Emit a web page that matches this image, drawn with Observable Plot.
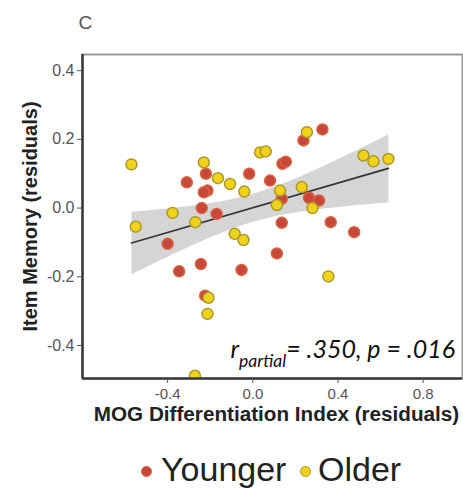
<!DOCTYPE html>
<html>
<head>
<meta charset="utf-8">
<script src="https://cdn.jsdelivr.net/npm/d3@7"></script>
<script src="https://cdn.jsdelivr.net/npm/@observablehq/plot@0.6"></script>
<style>
  html, body { margin: 0; padding: 0; background: #fff; }
  body { width: 463px; font-family: "Liberation Sans", Arial, sans-serif; }
  #chart svg { display: block; }
  #legend { position: relative; width: 463px; height: 58px; color: #222; font-size: 34px; }
  #legend .dot { position: absolute; width: 11px; height: 11px; border-radius: 50%; box-sizing: border-box; }
  #legend .lab { position: absolute; line-height: 1; white-space: nowrap; }
</style>
</head>
<body>
<div id="chart"></div>
<div id="legend"></div>
<script>
// ---- data ----
const groups = ["Younger", "Older"];
const groupFill = ["#c7473b", "#f1d11a"];
const groupStroke = ["#d8653f", "#a99a2c"];

const youngerX = [-0.31, -0.22, -0.213, -0.23, -0.24, -0.17, -0.40, -0.017, 0.081, 0.139, 0.155, 0.136,
                  0.136, 0.264, 0.311, 0.366, 0.238, 0.327, 0.113, 0.476, -0.346, -0.244, -0.224, -0.053];
const youngerY = [0.075, 0.10, 0.051, 0.046, 0.0, -0.017, -0.104, 0.10, 0.080, 0.129, 0.135, 0.027,
                  -0.043, 0.030, 0.022, -0.041, 0.197, 0.229, -0.132, -0.070, -0.184, -0.163, -0.255, -0.180];

const olderX = [-0.57, -0.23, -0.164, -0.107, -0.04, 0.034, 0.061, 0.128, 0.113, 0.23, 0.28, 0.254,
                -0.085, -0.044, 0.52, 0.567, 0.637, -0.377, -0.27, -0.55, -0.208, -0.213, -0.272, 0.355];
const olderY = [0.127, 0.133, 0.087, 0.070, 0.048, 0.162, 0.165, 0.051, 0.009, 0.061, 0.0, 0.221,
                -0.075, -0.093, 0.153, 0.136, 0.143, -0.014, -0.041, -0.054, -0.261, -0.308, -0.488, -0.199];

const xTicks = [-0.4, 0.0, 0.4, 0.8];
const yTicks = [-0.4, -0.2, 0.0, 0.2, 0.4];
const xDomain = [-0.8, 0.985];
const yDomain = [-0.496, 0.447];

const panelLabel = "C";
const xLabel = "MOG Differentiation Index (residuals)";
const yLabel = "Item Memory (residuals)";
const statR = "r";
const statSub = "partial";
const statRest = "= .350, p = .016";
const statPos = {x: 0.952, y: -0.438};

// ---- build table ----
const younger = youngerX.map((x, i) => ({x, y: youngerY[i], group: groups[0]}));
const older = olderX.map((x, i) => ({x, y: olderY[i], group: groups[1]}));
const all = younger.concat(older);
const fmt = d => d.toFixed(1);

const plot = Plot.plot({
  width: 463,
  height: 430,
  marginLeft: 82,
  marginRight: 1,
  marginTop: 54,
  marginBottom: 52,
  style: {background: "#fff", fontFamily: "'Liberation Sans', Arial, sans-serif", color: "#222"},
  x: {domain: xDomain},
  y: {domain: yDomain},
  marks: [
    Plot.frame({stroke: "#9a9a9a", strokeWidth: 2}),
    Plot.linearRegressionY(all, {x: "x", y: "y", stroke: "#333", strokeWidth: 1.6, fill: "#b9b9b9", fillOpacity: 0.6, ci: 0.95}),
    Plot.dot(younger, {x: "x", y: "y", r: 5.5, fill: groupFill[0], stroke: groupStroke[0], strokeWidth: 1.5, clip: true}),
    Plot.dot(older, {x: "x", y: "y", r: 5.5, fill: groupFill[1], stroke: groupStroke[1], strokeWidth: 1.5, clip: true}),
    Plot.ruleX([xDomain[0]], {stroke: "#3a3a3a", strokeWidth: 2.5}),
    Plot.ruleY([yDomain[0]], {stroke: "#3a3a3a", strokeWidth: 2.5}),
    Plot.axisY({ticks: yTicks, tickFormat: fmt, tickSize: 5, tickPadding: 3, fontSize: 16, color: "#555", label: null}),
    Plot.axisX({ticks: xTicks, tickFormat: fmt, tickSize: 5, tickPadding: 5, fontSize: 15, color: "#555", label: null}),
    Plot.text([yLabel], {frameAnchor: "left", textAnchor: "middle", lineAnchor: "middle", rotate: -90, dx: -52, fontSize: 20, fontWeight: "bold", fill: "#222"}),
    Plot.text([xLabel], {frameAnchor: "bottom", textAnchor: "middle", lineAnchor: "middle", dy: 36, dx: 4, fontSize: 20.7, fontWeight: "bold", fill: "#222"}),
    Plot.text([panelLabel], {frameAnchor: "top-left", textAnchor: "start", lineAnchor: "bottom", dx: -4, dy: -26, fontSize: 19, fill: "#555"})
  ]
});

// statistic annotation with subscript
const sx = plot.scale("x"), sy = plot.scale("y");
const ann = d3.select(plot).append("text")
  .attr("x", sx.apply(statPos.x))
  .attr("y", sy.apply(statPos.y))
  .attr("text-anchor", "end")
  .attr("font-family", "Lato, 'Open Sans', sans-serif")
  .attr("font-style", "italic")
  .attr("font-size", 25)
  .attr("fill", "#111");
ann.append("tspan").text(statR);
ann.append("tspan").attr("font-size", 17.5).attr("dy", 9).text(statSub);
ann.append("tspan").attr("dy", -9).text(statRest);

document.getElementById("chart").appendChild(plot);

// legend
const legend = d3.select("#legend");
const dotLeft = [141, 300];
const labLeft = [161, 318];
groups.forEach((g, i) => {
  legend.append("div").attr("class", "dot")
    .style("left", dotLeft[i] + "px").style("top", "36px")
    .style("background", groupFill[i]).style("border", `1.5px solid ${groupStroke[i]}`);
  legend.append("div").attr("class", "lab")
    .style("left", labLeft[i] + "px").style("top", "22px")
    .text(g);
});
</script>
</body>
</html>
